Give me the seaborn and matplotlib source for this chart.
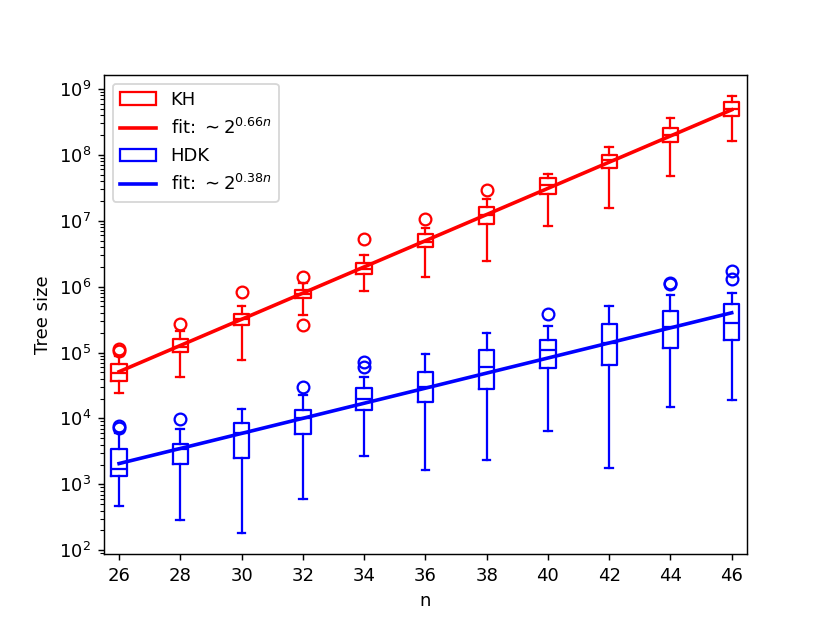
import numpy as np
import seaborn as sns
import matplotlib
matplotlib.use("Agg")
import matplotlib.pyplot as plt
from matplotlib.patches import Patch
from matplotlib.lines import Line2D

n = [26, 28, 30, 32, 34, 36, 38, 40, 42, 44, 46]

# KH tree sizes (box stats)
kh_med = [48.5e3, 123e3, 320e3, 783e3, 1.86e6, 4.82e6, 12.2e6, 34.9e6, 83.7e6, 200e6, 492e6]
kh_q1 = [37.5e3, 102e3, 262e3, 681e3, 1.54e6, 4.05e6, 8.94e6, 25.2e6, 63.3e6, 158e6, 389e6]
kh_q3 = [66.4e3, 163e3, 385e3, 891e3, 2.27e6, 6.24e6, 16.4e6, 44.6e6, 99.6e6, 253e6, 641e6]
kh_lo = [24.1e3, 43e3, 77e3, 368e3, 861e3, 1.42e6, 2.45e6, 8.34e6, 15.8e6, 47.9e6, 164e6]
kh_hi = [88.8e3, 213e3, 515e3, 1.15e6, 3.03e6, 7.8e6, 21.4e6, 51.8e6, 133e6, 367e6, 783e6]
kh_fliers = [[113e3, 107e3], [272e3], [840e3], [1.42e6, 259e3], [5.3e6], [10.6e6],
             [29.3e6], [], [], [], []]

# HDK tree sizes
hdk_med = [1.71e3, 3.41e3, 6.1e3, 10.1e3, 19.8e3, 29.7e3, 61e3, 109e3, 138e3, 242e3, 284e3]
hdk_q1 = [1.34e3, 2.02e3, 2.54e3, 5.76e3, 13.5e3, 17.6e3, 28e3, 57.8e3, 64.9e3, 117e3, 155e3]
hdk_q3 = [3.41e3, 4.1e3, 8.46e3, 13.5e3, 29.3e3, 50.2e3, 109e3, 155e3, 272e3, 428e3, 546e3]
hdk_lo = [470, 288, 185, 607, 2.7e3, 1.66e3, 2.37e3, 6.46e3, 1.79e3, 15.1e3, 18.9e3]
hdk_hi = [5.96e3, 6.86e3, 14.1e3, 22.7e3, 43e3, 95.2e3, 196e3, 256e3, 505e3, 748e3, 794e3]
hdk_fliers = [[7.7e3, 7.2e3], [9.7e3], [], [29.7e3], [72.8e3, 59.8e3], [], [],
              [381e3], [], [1.15e6, 1.09e6], [1.75e6, 1.32e6]]

# fit: size ~ 2^(slope*n + offset)
kh_fit = (0.66, -1.515)
hdk_fit = (0.38, 1.134)


def stats(med, q1, q3, lo, hi, fl):
    return [dict(med=m, q1=a, q3=b, whislo=l, whishi=h, fliers=f)
            for m, a, b, l, h, f in zip(med, q1, q3, lo, hi, fl)]


fig, ax = plt.subplots(figsize=(830 / 130, 623 / 130), dpi=130)

series = [
    ("KH", "red", stats(kh_med, kh_q1, kh_q3, kh_lo, kh_hi, kh_fliers), kh_fit),
    ("HDK", "blue", stats(hdk_med, hdk_q1, hdk_q3, hdk_lo, hdk_hi, hdk_fliers), hdk_fit),
]

lw = 1.25
handles = []
for name, col, st, (slope, off) in series:
    ax.bxp(st, positions=n, widths=0.5, manage_ticks=False,
           boxprops=dict(color=col, linewidth=lw),
           whiskerprops=dict(color=col, linewidth=lw),
           capprops=dict(color=col, linewidth=lw),
           medianprops=dict(color=col, linewidth=lw),
           flierprops=dict(marker="o", markeredgecolor=col, markerfacecolor="none",
                           markersize=6.5, markeredgewidth=lw))
    nn = np.array(n)
    sns.lineplot(x=nn, y=2.0 ** (slope * nn + off), ax=ax, color=col, linewidth=2)
    handles.append(Patch(facecolor="none", edgecolor=col, linewidth=lw, label=name))
    handles.append(Line2D([], [], color=col, linewidth=2,
                          label=r"fit: $\sim2^{%.2fn}$" % slope))

ax.set_yscale("log")
ax.set_xlim(25.5, 46.5)
ax.set_ylim(10 ** 1.936, 10 ** 9.215)
ax.set_xticks(n)
ax.set_xticklabels([str(v) for v in n])
ax.set_xlabel("n")
ax.set_ylabel("Tree size")
ax.legend(handles=handles, loc="upper left")

fig.savefig("out.png", dpi=130)
